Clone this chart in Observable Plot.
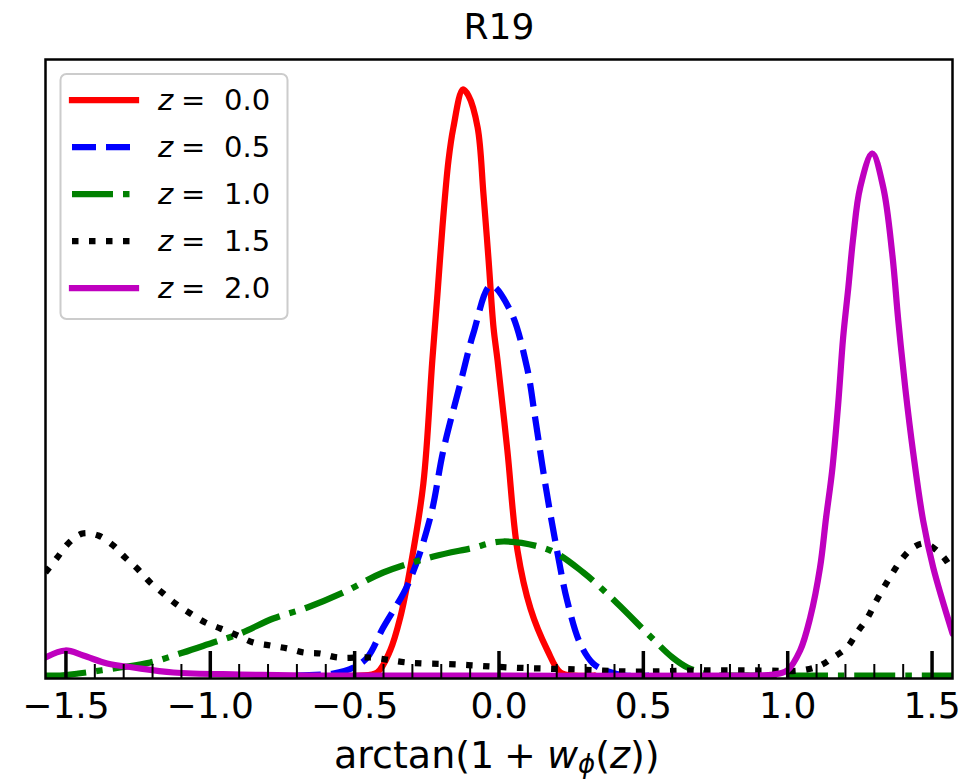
<!DOCTYPE html>
<html>
<head>
<meta charset="utf-8">
<script src="https://cdn.jsdelivr.net/npm/d3@7"></script>
<script src="https://cdn.jsdelivr.net/npm/@observablehq/plot@0.6"></script>
<style>
  body { margin: 0; background: #ffffff; }
  #chart svg { display: block; }
</style>
</head>
<body>
<div id="chart"></div>
<script>
// ---- data ----
const titleText = "R19";
const seriesLabels = ["0.0", "0.5", "1.0", "1.5", "2.0"];
const seriesColors = ["#ff0000", "#0000ff", "#008000", "#000000", "#bf00bf"];
const seriesDash = [null, "24,10", "41,10,6.5,10", "6.5,10.5", null];

// z = 0.0
const xZ00 = [-0.55, -0.481, -0.422, -0.377, -0.342, -0.307, -0.262, -0.231, -0.213, -0.196, -0.175, -0.158, -0.125, -0.106, -0.074, -0.054, -0.036, -0.019, -0.005, 0.029, 0.064, 0.109, 0.168, 0.213, 0.264, 0.33];
const yZ00 = [0.03, 0.03, 0.06, 0.28, 0.61, 1.11, 1.95, 3.18, 3.85, 4.51, 5.18, 5.51, 5.89, 5.83, 5.51, 4.85, 4.18, 3.51, 3.18, 2.28, 1.28, 0.70, 0.28, 0.06, 0.03, 0.03];

// z = 0.5
const xZ05 = [-0.70, -0.574, -0.504, -0.456, -0.401, -0.314, -0.238, -0.193, -0.134, -0.089, -0.028, 0.039, 0.097, 0.125, 0.160, 0.201, 0.236, 0.281, 0.326, 0.368, 0.437, 0.52];
const yZ05 = [0.03, 0.05, 0.11, 0.21, 0.51, 0.95, 1.61, 2.28, 2.95, 3.45, 3.93, 3.68, 3.11, 2.61, 1.95, 1.28, 0.78, 0.35, 0.15, 0.08, 0.03, 0.03];

// z = 1.0
const xZ10 = [-1.571, -1.520, -1.457, -1.312, -1.208, -1.094, -0.990, -0.896, -0.782, -0.664, -0.539, -0.401, -0.227, -0.10, 0.015, 0.178, 0.292, 0.410, 0.514, 0.601, 0.653, 0.732, 0.871, 1.1, 1.3, 1.571];
const yZ10 = [0.03, 0.03, 0.05, 0.11, 0.16, 0.26, 0.36, 0.45, 0.60, 0.71, 0.86, 1.06, 1.22, 1.30, 1.37, 1.28, 1.06, 0.75, 0.45, 0.21, 0.11, 0.04, 0.03, 0.03, 0.03, 0.03];

// z = 1.5
const xZ15 = [-1.571, -1.530, -1.492, -1.443, -1.388, -1.336, -1.295, -1.253, -1.208, -1.163, -1.121, -1.069, -1.017, -0.965, -0.906, -0.851, -0.792, -0.733, -0.677, -0.619, -0.560, -0.446, -0.318, -0.145, 0.039, 0.271, 0.455, 0.697, 0.905, 1.043, 1.112, 1.157, 1.205, 1.240, 1.275, 1.302, 1.331, 1.362, 1.397, 1.435, 1.476, 1.535, 1.571];
const yZ15 = [1.06, 1.21, 1.35, 1.45, 1.43, 1.33, 1.21, 1.10, 0.96, 0.85, 0.75, 0.65, 0.56, 0.50, 0.43, 0.36, 0.33, 0.30, 0.26, 0.25, 0.21, 0.21, 0.16, 0.14, 0.11, 0.09, 0.07, 0.08, 0.08, 0.08, 0.13, 0.21, 0.31, 0.46, 0.60, 0.75, 0.90, 1.05, 1.20, 1.31, 1.35, 1.23, 1.08];

// z = 2.0
const xZ20 = [-1.571, -1.502, -1.440, -1.357, -1.267, -1.128, -0.896, -0.664, -0.342, 0.871, 0.950, 0.998, 1.043, 1.078, 1.112, 1.133, 1.154, 1.175, 1.192, 1.210, 1.227, 1.251, 1.293, 1.331, 1.362, 1.383, 1.407, 1.435, 1.469, 1.504, 1.571];
const yZ20 = [0.21, 0.28, 0.23, 0.15, 0.11, 0.06, 0.04, 0.03, 0.03, 0.03, 0.04, 0.08, 0.28, 0.61, 1.11, 1.61, 2.08, 2.75, 3.41, 3.91, 4.41, 4.91, 5.25, 4.91, 4.25, 3.58, 2.91, 2.25, 1.58, 1.11, 0.45];

const majorTicks = [-1.5, -1.0, -0.5, 0.0, 0.5, 1.0, 1.5];
const minorTicks = [-1.4, -1.3, -1.2, -1.1, -0.9, -0.8, -0.7, -0.6, -0.4, -0.3, -0.2, -0.1, 0.1, 0.2, 0.3, 0.4, 0.6, 0.7, 0.8, 0.9, 1.1, 1.2, 1.3, 1.4];
const xLabelText = "arctan(1 + wϕ(z))";

// ---- build ----
const xsAll = [xZ00, xZ05, xZ10, xZ15, xZ20];
const ysAll = [yZ00, yZ05, yZ10, yZ15, yZ20];
const curves = xsAll.map((xa, k) => xa.map((x, i) => ({x, y: ysAll[k][i], z: seriesLabels[k]})));

const FONT = "'DejaVu Sans', 'Liberation Sans', sans-serif";
const LW = 6.25;

const lineMarks = curves.map((data, k) => Plot.line(data, {
  x: "x", y: "y",
  stroke: seriesColors[k],
  strokeWidth: LW,
  strokeDasharray: seriesDash[k] || undefined,
  strokeLinecap: seriesDash[k] ? "butt" : "round",
  strokeLinejoin: "round",
  curve: "catmull-rom",
  clip: true
}));

const frameH = 781 - 59 - 103;

const chart = Plot.plot({
  width: 977,
  height: 781,
  marginLeft: 45,
  marginRight: 25,
  marginTop: 59,
  marginBottom: 103,
  style: {fontFamily: FONT, fontSize: "36px", background: "#ffffff", color: "#000000"},
  x: {domain: [-Math.PI / 2, Math.PI / 2], label: null},
  y: {domain: [0, 6.19], axis: null},
  marks: [
    ...lineMarks,
    Plot.ruleX(minorTicks, {x: d => d, insetTop: frameH - 14, stroke: "#000", strokeWidth: 2}),
    Plot.ruleX(majorTicks, {x: d => d, insetTop: frameH - 27, stroke: "#000", strokeWidth: 3.5}),
    Plot.frame({stroke: "#000", strokeWidth: 2.5}),
    Plot.axisX(majorTicks, {tickSize: 0, tickPadding: 14, tickFormat: d3.format(".1f"), fontSize: 36, label: null}),
    Plot.text([titleText], {text: d => d, frameAnchor: "top", dy: -21, lineAnchor: "bottom", fontSize: 36, fill: "#000"})
  ]
});

document.getElementById("chart").appendChild(chart);

// ---- x label with math styling ----
const svg = d3.select(chart);
const xl = svg.append("text")
  .attr("y", 768)
  .attr("text-anchor", "start")
  .attr("font-family", FONT)
  .attr("font-size", 38)
  .attr("fill", "#000");
xl.append("tspan").attr("x", 334).text("arctan(1");
xl.append("tspan").attr("x", 504).text("+");
xl.append("tspan").attr("x", 547).attr("font-style", "italic").text("w");
xl.append("tspan").attr("font-style", "italic").attr("font-size", 26).attr("dy", 5).text("ϕ");
xl.append("tspan").attr("dy", -5).text("(");
xl.append("tspan").attr("font-style", "italic").text("z");
xl.append("tspan").text("))");
xl.append("title").text(xLabelText);

// ---- legend ----
const lg = svg.append("g").attr("font-family", FONT).attr("text-anchor", "start");
lg.append("rect")
  .attr("x", 60.5).attr("y", 74).attr("width", 227).attr("height", 245)
  .attr("rx", 6).attr("ry", 6)
  .attr("fill", "#ffffff").attr("fill-opacity", 0.8)
  .attr("stroke", "#cccccc").attr("stroke-width", 2);
seriesLabels.forEach((lab, i) => {
  const yRow = 100 + i * 47;
  lg.append("line")
    .attr("x1", 72).attr("x2", 136).attr("y1", yRow).attr("y2", yRow)
    .attr("stroke", seriesColors[i]).attr("stroke-width", LW)
    .attr("stroke-dasharray", seriesDash[i] || null)
    .attr("stroke-linecap", seriesDash[i] ? "butt" : "square");
  const t = lg.append("text").attr("y", yRow + 10).attr("font-size", 29).attr("fill", "#000").attr("text-anchor", "start");
  t.append("tspan").attr("x", 158).attr("font-style", "italic").text("z");
  t.append("tspan").attr("x", 181).text("=");
  t.append("tspan").attr("x", 224).text(lab);
});
</script>
</body>
</html>
